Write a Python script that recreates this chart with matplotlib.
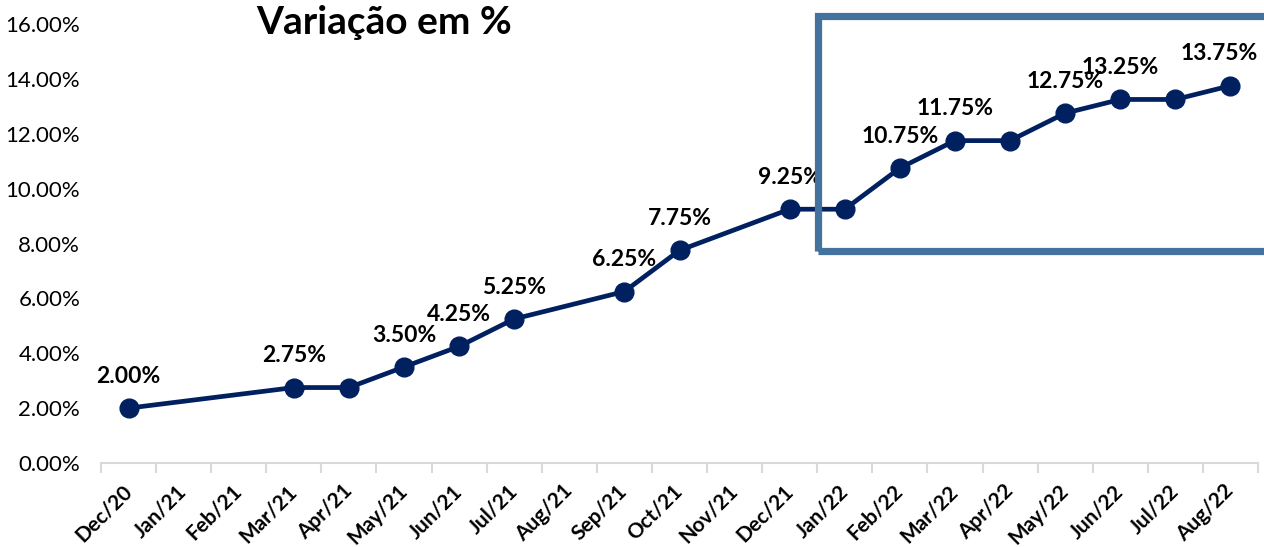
import numpy as np
import matplotlib
matplotlib.use("Agg")
import matplotlib.pyplot as plt
from matplotlib.patches import Rectangle

months = ['Dec/20', 'Jan/21', 'Feb/21', 'Mar/21', 'Apr/21', 'May/21', 'Jun/21',
          'Jul/21', 'Aug/21', 'Sep/21', 'Oct/21', 'Nov/21', 'Dec/21', 'Jan/22',
          'Feb/22', 'Mar/22', 'Apr/22', 'May/22', 'Jun/22', 'Jul/22', 'Aug/22']
rates = [2.00, np.nan, np.nan, 2.75, 2.75, 3.50, 4.25, 5.25, np.nan, 6.25, 7.75,
         np.nan, 9.25, 9.25, 10.75, 11.75, 11.75, 12.75, 13.25, 13.25, 13.75]
yticks = [0, 2, 4, 6, 8, 10, 12, 14, 16]
title = 'Variação em %'

plt.rcParams['font.family'] = ['Lato', 'DejaVu Sans']

W, H = 1264, 547
fig = plt.figure(figsize=(W / 100, H / 100), dpi=100)
ax = fig.add_axes([101 / W, 1 - 463 / H, (1258 - 101) / W, (463 - 24) / H])

x = np.arange(len(months)) + 0.5
y = np.array(rates)
m = ~np.isnan(y)
navy = '#002060'
ax.plot(x[m], y[m], color=navy, lw=3.4, marker='o', ms=13.5, zorder=3, clip_on=False)

prev = None
xs, ys = x[m], y[m]
for k, (xi, yi) in enumerate(zip(xs, ys)):
    if prev is None or yi != prev:
        dx = -8 if k == len(xs) - 1 else 0
        ax.annotate(f'{yi:.2f}%', (xi, yi), xytext=(dx, 23), textcoords='offset points',
                    ha='center', va='center', fontsize=16.5, fontweight='bold',
                    color='black', zorder=4)
    prev = yi

ax.set_xlim(0, len(months))
ax.set_ylim(0, 16)
ax.set_yticks(yticks)
ax.set_yticklabels([f'{v:.2f}%' for v in yticks], fontsize=16)
ax.tick_params(axis='y', length=0, pad=15)
ax.set_xticks(np.arange(len(months) + 1))
ax.set_xticklabels([])
ax.set_xticks(x, minor=True)
ax.set_xticklabels(months, minor=True, rotation=45, ha='right', va='center',
                   rotation_mode='anchor', fontsize=15, fontweight='bold')
ax.tick_params(axis='x', which='major', length=7, color='#D9D9D9', width=1.5)
ax.tick_params(axis='x', which='minor', length=0, pad=18)
for s in ['top', 'right', 'left']:
    ax.spines[s].set_visible(False)
ax.spines['bottom'].set_color('#D9D9D9')
ax.spines['bottom'].set_linewidth(1.5)

fig.text(384 / W, 1 - 23 / H, title, ha='center', va='center', fontsize=28,
         fontweight='bold', color='black')

rect = Rectangle((818 / W, 1 - 251.5 / H), 0.5, (251.5 - 16.5) / H,
                 transform=fig.transFigure, fill=False, edgecolor='#44729E',
                 lw=5.2, clip_on=False, zorder=5)
fig.patches.append(rect)

fig.savefig('out.png', dpi=100)
